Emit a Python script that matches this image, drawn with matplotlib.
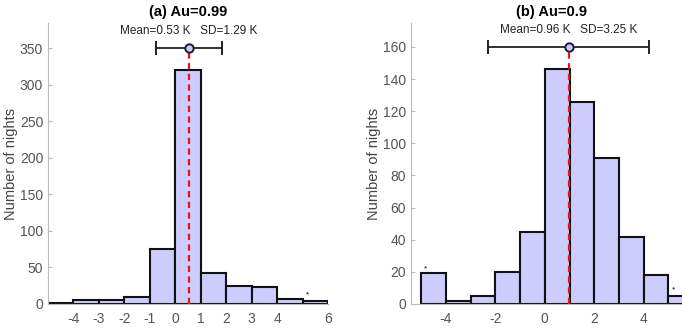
import numpy as np
import matplotlib
matplotlib.use("Agg")
import matplotlib.pyplot as plt

plt.rcParams["font.family"] = ["Liberation Sans", "DejaVu Sans"]
plt.rcParams["axes.unicode_minus"] = False

# bin edges shared by both panels (width 1 K)
edges = [-5, -4, -3, -2, -1, 0, 1, 2, 3, 4, 5, 6]

# (a) Au=0.99
counts_a = [1, 6, 5, 9, 76, 321, 42, 25, 23, 7, 4]
mean_a, sd_a = 0.53, 1.29
star_a = [(5.18, 13)]
xticks_a = [-4, -3, -2, -1, 0, 1, 2, 3, 4, 6]

# (b) Au=0.9
counts_b = [19, 2, 5, 20, 45, 146, 126, 91, 42, 18, 5]
mean_b, sd_b = 0.96, 3.25
star_b = [(-4.85, 22), (5.23, 9)]
xticks_b = [-4, -2, 0, 2, 4]

face = "#ccccff"
gray = "#555555"

fig = plt.figure(figsize=(6.82, 3.28), dpi=100)
ax1 = fig.add_axes([0.0704, 0.0732, 0.4106, 0.857])
ax2 = fig.add_axes([0.6026, 0.0732, 0.4135, 0.857])


def panel(ax, counts, mean, sd, stars, xticks, xlim, ylim, ebar_y, title):
    ax.hist(edges[:-1], bins=edges, weights=counts, color=face,
            edgecolor="#111111", linewidth=1.5, zorder=2)
    ax.plot([mean, mean], [0, ebar_y], color="#ee1111", lw=1.6,
            dashes=(2.8, 2), zorder=3)
    ax.errorbar(mean, ebar_y, xerr=sd, fmt="o", color="#222222",
                ecolor="#222222", elinewidth=1.3, capsize=5, capthick=1.3,
                markerfacecolor=face, markeredgecolor="#1a1a3a",
                markersize=6, markeredgewidth=1.4, zorder=4)
    ax.annotate(f"Mean={mean:.2f} K   SD={sd:.2f} K", (mean, ebar_y),
                xytext=(0, 8), textcoords="offset points", ha="center",
                va="bottom", fontsize=8.5, color="#222222")
    for sx, sy in stars:
        ax.text(sx, sy, "*", fontsize=6, ha="center", va="center", color="black")
    ax.set_xlim(*xlim)
    ax.set_ylim(*ylim)
    ax.set_xticks(xticks)
    ax.set_title(title, fontsize=10.5, fontweight="bold", pad=5)
    ax.set_ylabel("Number of nights", fontsize=10.5, color="#444444", labelpad=1)
    for s in ("top", "right"):
        ax.spines[s].set_visible(False)
    for s in ("left", "bottom"):
        ax.spines[s].set_color("#bbbbbb")
        ax.spines[s].set_linewidth(0.8)
    ax.tick_params(axis="both", direction="in", length=3, color="#bbbbbb",
                   labelcolor=gray, labelsize=10)
    ax.tick_params(axis="x", length=0, pad=6)


panel(ax1, counts_a, mean_a, sd_a, star_a, xticks_a, (-5, 6), (0, 385),
      350, "(a) Au=0.99")
panel(ax2, counts_b, mean_b, sd_b, star_b, xticks_b, (-5.42, 6), (0, 175),
      160, "(b) Au=0.9")

fig.savefig("out.png", dpi=100)
